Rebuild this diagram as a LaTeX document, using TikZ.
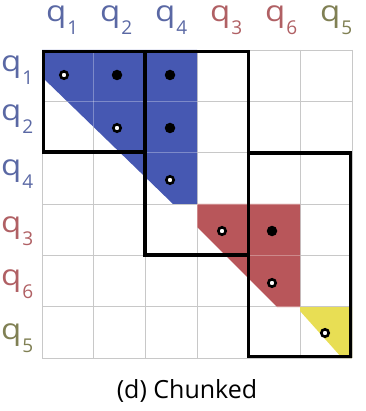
\documentclass[tikz,border=0pt]{standalone}
\usepackage{fontspec}
\setmainfont{Open Sans}
\definecolor{qblue}{RGB}{70,88,178}
\definecolor{qred}{RGB}{184,86,90}
\definecolor{qyellow}{RGB}{232,222,84}
\definecolor{lblue}{RGB}{90,104,164}
\definecolor{lred}{RGB}{176,96,100}
\definecolor{lolive}{RGB}{128,128,84}
\definecolor{gridgray}{RGB}{200,200,200}
\newcommand{\qlab}[1]{\scalebox{1.14}[1]{\fontsize{29}{29}\selectfont q}\kern1pt\raisebox{-13pt}{\fontsize{19}{19}\selectfont #1}}
\tikzset{
  qlabel/.style={inner sep=0pt, anchor=base west},
  bdot/.style={fill=black, circle, inner sep=0pt, minimum size=10.5pt},
  wdot/.style={fill=white, draw=black, line width=2.6pt, circle, inner sep=0pt, minimum size=7.4pt},
  chunk/.style={draw=black, line width=3.8pt, line join=miter},
  gridline/.style={draw=gridgray, line width=0.9pt},
  gridover/.style={draw=white, opacity=0.3, line width=0.9pt},
}
\begin{document}
\begin{tikzpicture}[x=1pt,y=-1pt]
\useasboundingbox (0,0) rectangle (365,411);
% grid under fills
\foreach \i in {0,...,6} {
  \draw[gridline] ({42+\i*51.667},50) -- ({42+\i*51.667},358);
  \draw[gridline] (42,{50+\i*51.333}) -- (352,{50+\i*51.333});
}
% fills
\fill[qblue] (42,50) -- (197,50) -- (197,204) -- (173,204) -- (42,77) -- cycle;
\fill[qred] (197,204) -- (300,204) -- (300,307) -- (277,307) -- (197,227) -- cycle;
\fill[qyellow] (300,307) -- (352,307) -- (352,358) -- (342,358) -- (300,311) -- cycle;
% grid over fills
\begin{scope}
\clip (42,50) -- (197,50) -- (197,204) -- (173,204) -- (42,77) -- cycle
      (197,204) -- (300,204) -- (300,307) -- (277,307) -- (197,227) -- cycle;
\foreach \i in {0,...,6} {
  \draw[gridover] ({42+\i*51.667},50) -- ({42+\i*51.667},358);
  \draw[gridover] (42,{50+\i*51.333}) -- (352,{50+\i*51.333});
}
\end{scope}
% chunk boxes
\draw[chunk] (43.5,51.5) rectangle (145.3,152.2);
\draw[chunk] (145.3,51.5) rectangle (248.5,255.3);
\draw[chunk] (248.5,152.7) rectangle (350.5,356.5);
% dots
\node[wdot] (d11) at (64,75) {};
\node[bdot] (d12) at (117,75) {};
\node[bdot] (d14) at (170,75) {};
\node[wdot] (d22) at (117,128) {};
\node[bdot] (d24) at (170,128) {};
\node[wdot] (d44) at (170,180) {};
\node[wdot] (d33) at (222,231) {};
\node[bdot] (d36) at (272,231) {};
\node[wdot] (d66) at (272,283) {};
\node[wdot] (d55) at (325,333) {};
% top labels
\node[qlabel, text=lblue] (t1) at (46,22) {\qlab{1}};
\node[qlabel, text=lblue] (t2) at (100,22) {\qlab{2}};
\node[qlabel, text=lblue] (t4) at (155,22) {\qlab{4}};
\node[qlabel, text=lred] (t3) at (210,22) {\qlab{3}};
\node[qlabel, text=lred] (t6) at (265,22) {\qlab{6}};
\node[qlabel, text=lolive] (t5) at (320,22) {\qlab{5}};
% left labels
\node[qlabel, text=lblue] (l1) at (1,72) {\qlab{1}};
\node[qlabel, text=lblue] (l2) at (1,121) {\qlab{2}};
\node[qlabel, text=lblue] (l4) at (1,176) {\qlab{4}};
\node[qlabel, text=lred] (l3) at (1,232) {\qlab{3}};
\node[qlabel, text=lred] (l6) at (1,285) {\qlab{6}};
\node[qlabel, text=lolive] (l5) at (1,339) {\qlab{5}};
% caption
\node[inner sep=0pt, anchor=base] (cap) at (187,398.5) {\fontsize{25}{25}\selectfont (d) Chunked};
\end{tikzpicture}
\end{document}
